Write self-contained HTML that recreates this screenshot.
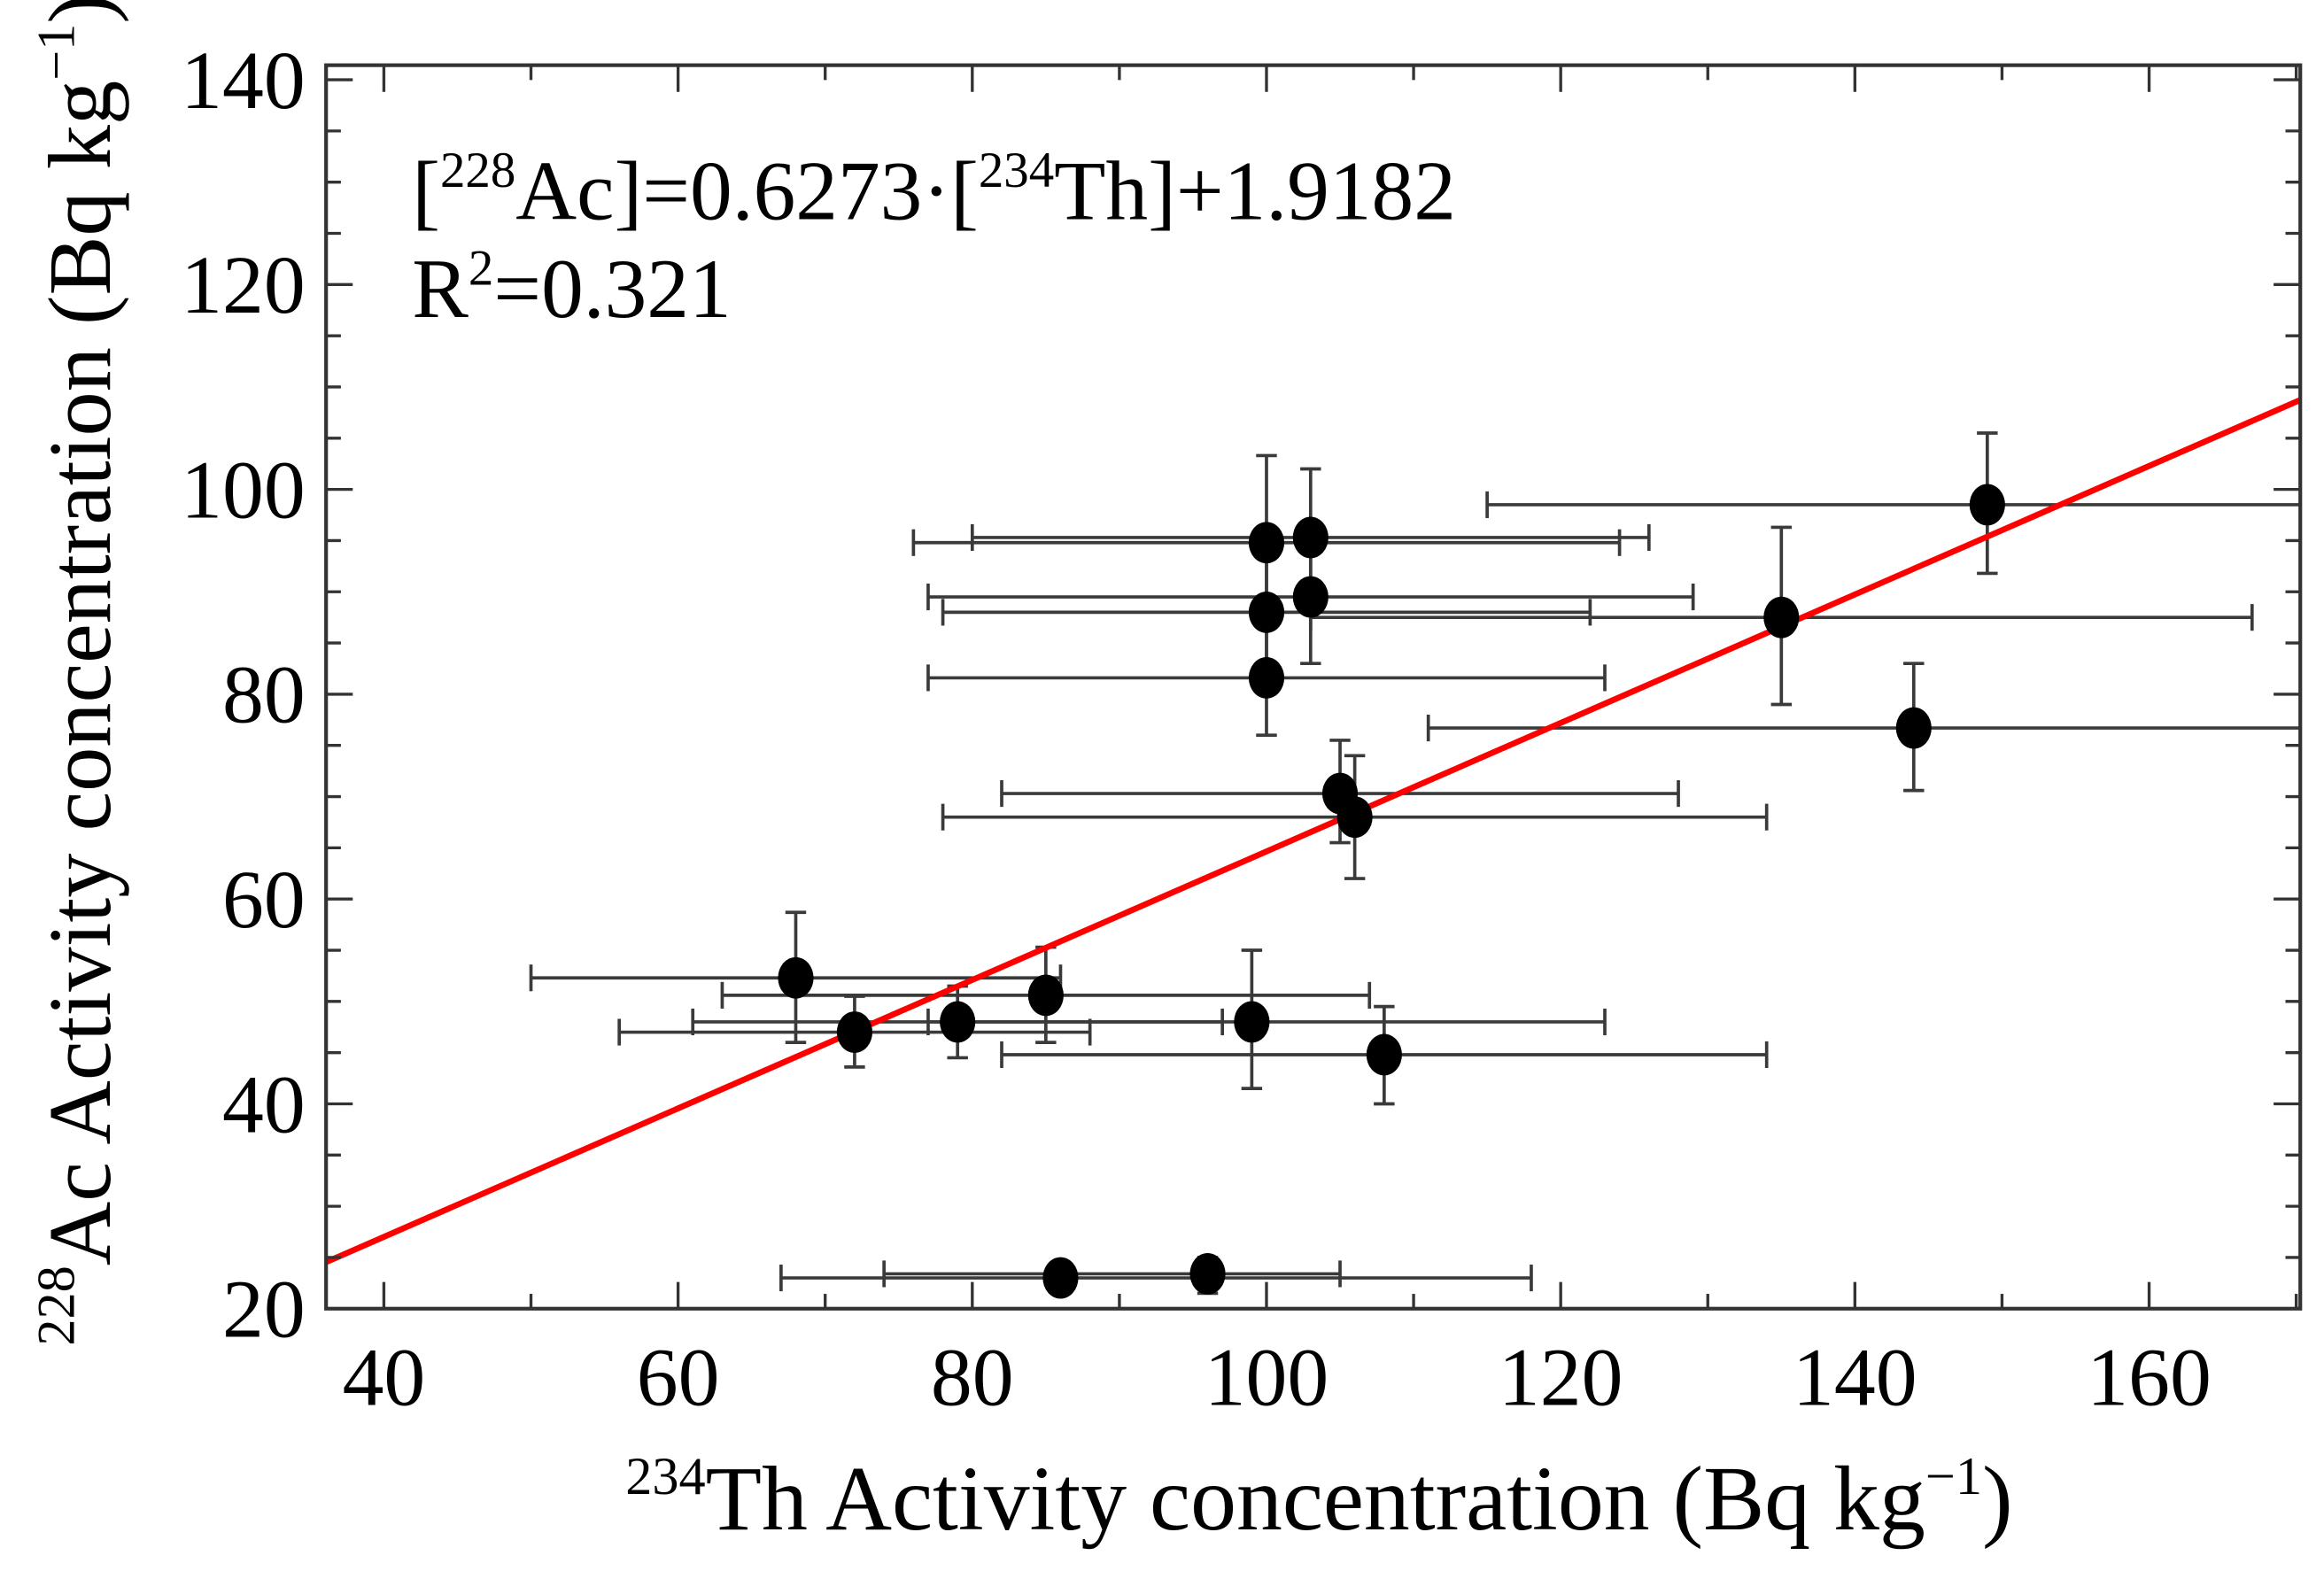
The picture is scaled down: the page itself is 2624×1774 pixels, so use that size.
<!DOCTYPE html>
<html><head><meta charset="utf-8"><style>html,body{margin:0;padding:0;background:#fff}svg{display:block}</style></head>
<body>
<svg id="chart" width="2624" height="1774" viewBox="0 0 1568 1060" preserveAspectRatio="none" xmlns="http://www.w3.org/2000/svg" font-family="'Liberation Serif', serif">
<rect width="1568" height="1060" fill="#fff"/>
<g id="marks"></g>
<rect x="220" y="44" width="1332" height="839" fill="none" stroke="#333" stroke-width="2.5"/>
<g id="axes"></g>
<text x="278" y="148" font-size="57">[<tspan font-size="34" dy="-22">228</tspan><tspan dy="22">Ac]=0.6273·[</tspan><tspan font-size="34" dy="-22">234</tspan><tspan dy="22">Th]+1.9182</tspan></text>
<text x="278" y="214" font-size="57">R<tspan font-size="34" dy="-22">2</tspan><tspan dy="22">=0.321</tspan></text>
<text x="890" y="1032" font-size="62" text-anchor="middle"><tspan font-size="36" dy="-24">234</tspan><tspan dy="24">Th Activity concentration (Bq kg</tspan><tspan font-size="36" dy="-24">−1</tspan><tspan dy="24">)</tspan></text>
<text transform="translate(74,452) rotate(-90)" font-size="60" text-anchor="middle"><tspan font-size="36" dy="-24">228</tspan><tspan dy="24">Ac Activity concentration (Bq kg</tspan><tspan font-size="36" dy="-24">−1</tspan><tspan dy="24">)</tspan></text>
</svg>
<script>
const xs   = [100, 103, 100, 103, 100, 149, 135, 144, 105, 106, 68, 72, 79, 85, 99, 108, 86, 96];
const ys   = [94.8, 95.3, 88, 89.5, 81.6, 98.5, 87.5, 76.7, 70.3, 68, 52.3, 47, 48, 50.6, 48, 44.8, 23, 23.4];
const xLo  = [76, 80, 78, 77, 77, 115, 103, 111, 82, 78, 50, 56, 61, 63, 77, 82, 67, 74];
const xHi  = [124, 126, 122, 129, 123, 175, 167, 175, 128, 134, 86, 88, 97, 107, 123, 134, 118, 105];
const yLo  = [87, 88.5, 81.5, 83, 76, 91.8, 79, 70.6, 65.5, 62, 46, 43.6, 44.5, 46, 41.5, 40, 21.5, 21.5];
const yHi  = [103.3, 102, 94, 96, 87, 105.5, 96.3, 83, 75.5, 74, 58.7, 50.5, 51.5, 55.3, 55, 49.5, 24.5, 25];
const xTicks = [40, 60, 80, 100, 120, 140, 160];
const yTicks = [20, 40, 60, 80, 100, 120, 140];
const slope = 0.6273, intercept = 1.9182;

const NS = "http://www.w3.org/2000/svg";
const L = 220, R = 1552, T = 44, B = 883;
const sx = v => 259 + (v - 40) * (1191 / 120);
const sy = v => 883 - (v - 20) * (138.2 / 20);
const cl = (v, a, b) => Math.max(a, Math.min(b, v));
function mk(tag, attrs, parent) {
  const e = document.createElementNS(NS, tag);
  for (const k in attrs) e.setAttribute(k, attrs[k]);
  parent.appendChild(e);
  return e;
}
const marks = document.getElementById('marks');
const axes = document.getElementById('axes');

for (let i = 0; i < xs.length; i++) {
  const g = mk('g', {stroke: '#3a3a3a', 'stroke-width': 2.2, fill: 'none'}, marks);
  
  
  const y = sy(ys[i]), x = sx(xs[i]);
  const x1 = cl(sx(xLo[i]), L, R), x2 = cl(sx(xHi[i]), L, R);
  mk('line', {x1: x1, x2: x2, y1: y, y2: y}, g);
  if (sx(xLo[i]) >= L) mk('line', {x1: x1, x2: x1, y1: y - 9, y2: y + 9}, g);
  if (sx(xHi[i]) <= R) mk('line', {x1: x2, x2: x2, y1: y - 9, y2: y + 9}, g);
  const ya = sy(yLo[i]), yb = sy(yHi[i]);
  mk('line', {x1: x, x2: x, y1: ya, y2: yb}, g);
  mk('line', {x1: x - 7, x2: x + 7, y1: ya, y2: ya}, g);
  mk('line', {x1: x - 7, x2: x + 7, y1: yb, y2: yb}, g);
}
const fx1 = 36.07, fx2 = 170.3;
const fit = mk('line', {x1: sx(fx1), y1: sy(slope * fx1 + intercept), x2: sx(fx2), y2: sy(slope * fx2 + intercept), stroke: '#f00', 'stroke-width': 4}, marks);


for (let i = 0; i < xs.length; i++) {
  const p = mk('ellipse', {cx: sx(xs[i]), cy: sy(ys[i]), rx: 12, ry: 14, fill: '#000'}, marks);
  
  
}
const tg = mk('g', {stroke: '#333', 'stroke-width': 2}, axes);
for (let v = 40; v <= 170; v += 10) {
  const x = sx(v), len = v % 20 === 0 ? 18 : 10;
  mk('line', {x1: x, x2: x, y1: B, y2: B - len}, tg);
  mk('line', {x1: x, x2: x, y1: T, y2: T + len}, tg);
}
for (let v = 20; v <= 140; v += 5) {
  const y = sy(v), len = v % 20 === 0 ? 18 : 10;
  mk('line', {x1: L, x2: L + len, y1: y, y2: y}, tg);
  mk('line', {x1: R, x2: R - len, y1: y, y2: y}, tg);
}
xTicks.forEach(v => {
  const t = mk('text', {x: sx(v), y: 948, 'font-size': 56, 'text-anchor': 'middle'}, axes);
  
  
  t.textContent = v;
});
yTicks.forEach(v => {
  const t = mk('text', {x: 206, y: sy(v) + 19, 'font-size': 56, 'text-anchor': 'end'}, axes);
  
  
  t.textContent = v;
});
</script>
</body></html>
